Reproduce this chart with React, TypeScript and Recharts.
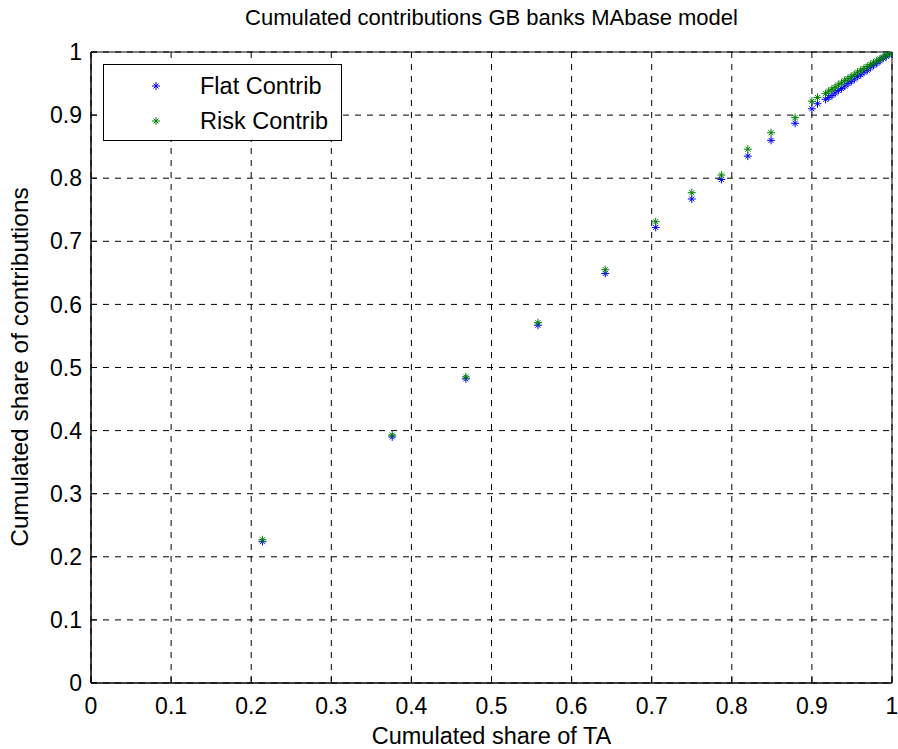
import React from 'react';
import { ScatterChart, Scatter, XAxis, YAxis, CartesianGrid, Legend, ReferenceArea } from 'recharts';

const shareTA = [0.214, 0.376, 0.468, 0.558, 0.642, 0.705, 0.75, 0.787, 0.82, 0.849, 0.879, 0.9, 0.907, 0.917, 0.921, 0.925, 0.929, 0.933, 0.937, 0.941, 0.945, 0.949, 0.953, 0.957, 0.961, 0.965, 0.969, 0.973, 0.977, 0.981, 0.985, 0.989, 0.993, 0.997, 1.0];
const flatContrib = [0.224, 0.39, 0.482, 0.567, 0.649, 0.722, 0.767, 0.798, 0.835, 0.86, 0.887, 0.91, 0.918, 0.925, 0.928, 0.931, 0.935, 0.939, 0.942, 0.946, 0.95, 0.953, 0.957, 0.961, 0.964, 0.968, 0.971, 0.975, 0.979, 0.982, 0.986, 0.99, 0.993, 0.997, 1.0];
const riskContrib = [0.227, 0.393, 0.485, 0.571, 0.655, 0.731, 0.777, 0.805, 0.846, 0.872, 0.896, 0.922, 0.928, 0.934, 0.938, 0.941, 0.944, 0.948, 0.951, 0.955, 0.958, 0.961, 0.964, 0.968, 0.971, 0.974, 0.977, 0.98, 0.983, 0.986, 0.989, 0.992, 0.995, 0.998, 1.0];

const ticks = [0, 0.1, 0.2, 0.3, 0.4, 0.5, 0.6, 0.7, 0.8, 0.9, 1];
const tickLabels = ['0', '0.1', '0.2', '0.3', '0.4', '0.5', '0.6', '0.7', '0.8', '0.9', '1'];

const seriesNames = ['Flat Contrib', 'Risk Contrib'];
const seriesColors = ['#0000ff', '#008000'];

const flatData = shareTA.map((x, i) => ({ x, y: flatContrib[i] }));
const riskData = shareTA.map((x, i) => ({ x, y: riskContrib[i] }));

const FONT = '"Liberation Sans", Arial, sans-serif';

const starShape = (color: string) => (props: any) => {
  const { cx, cy } = props;
  if (cx == null || cy == null) return <g />;
  const r = 4;
  const d = 2.5;
  return (
    <g stroke={color} strokeWidth={1}>
      <line x1={cx - r} y1={cy} x2={cx + r} y2={cy} />
      <line x1={cx} y1={cy - r} x2={cx} y2={cy + r} />
      <line x1={cx - d} y1={cy - d} x2={cx + d} y2={cy + d} />
      <line x1={cx - d} y1={cy + d} x2={cx + d} y2={cy - d} />
    </g>
  );
};

const Marker = ({ color }: { color: string }) => (
  <svg width={10} height={10} style={{ display: 'block' }}>
    <g stroke={color} strokeWidth={1}>
      <line x1={1} y1={5} x2={9} y2={5} />
      <line x1={5} y1={1} x2={5} y2={9} />
      <line x1={2.5} y1={2.5} x2={7.5} y2={7.5} />
      <line x1={2.5} y1={7.5} x2={7.5} y2={2.5} />
    </g>
  </svg>
);

const LegendBox = () => (
  <div
    style={{
      position: 'absolute',
      left: 103,
      top: 64,
      width: 237,
      height: 75,
      border: '1px solid #000',
      background: '#fff',
      fontFamily: FONT,
      fontSize: 23.5,
      color: '#000',
    }}
  >
    {seriesNames.map((name, i) => (
      <div key={name} style={{ position: 'absolute', left: 0, top: i === 0 ? 7 : 42, height: 28, width: 237 }}>
        <div style={{ position: 'absolute', left: 47, top: 9 }}>
          <Marker color={seriesColors[i]} />
        </div>
        <div style={{ position: 'absolute', left: 96, top: 0, lineHeight: '28px', whiteSpace: 'nowrap' }}>{name}</div>
      </div>
    ))}
  </div>
);

export default function App() {
  const fmt = (v: number) => {
    const idx = ticks.findIndex((t) => Math.abs(t - v) < 1e-9);
    return idx >= 0 ? tickLabels[idx] : String(v);
  };
  return (
    <div style={{ position: 'absolute', left: 0, top: 0, width: 898, height: 749, background: '#fff', fontFamily: FONT }}>
      <div
        style={{
          position: 'absolute',
          left: 91,
          width: 801,
          top: 5,
          textAlign: 'center',
          fontSize: 22,
          color: '#000',
          whiteSpace: 'nowrap',
        }}
      >
        Cumulated contributions GB banks MAbase model
      </div>
      <div
        style={{
          position: 'absolute',
          left: 91,
          width: 801,
          top: 723,
          textAlign: 'center',
          fontSize: 23.5,
          color: '#000',
          whiteSpace: 'nowrap',
        }}
      >
        Cumulated share of TA
      </div>
      <div
        style={{
          position: 'absolute',
          left: 20,
          top: 367,
          transform: 'translate(-50%, -50%) rotate(-90deg)',
          fontSize: 24.5,
          color: '#000',
          whiteSpace: 'nowrap',
        }}
      >
        Cumulated share of contributions
      </div>
      <ScatterChart width={898} height={749} margin={{ top: 52, right: 6, bottom: 36, left: 51 }}>
        <CartesianGrid xAxisId="b" yAxisId="l" stroke="#000" strokeDasharray="6 6" />
        <XAxis
          xAxisId="b"
          type="number"
          dataKey="x"
          domain={[0, 1]}
          ticks={ticks}
          tickFormatter={fmt}
          height={30}
          axisLine={{ stroke: '#000' }}
          tickLine={{ stroke: '#000' }}
          tickSize={-6}
          tickMargin={21}
          tick={{ fill: '#000', fontSize: 23, fontFamily: FONT }}
          allowDataOverflow
        />
        <YAxis
          yAxisId="l"
          type="number"
          dataKey="y"
          domain={[0, 1]}
          ticks={ticks}
          tickFormatter={fmt}
          width={40}
          axisLine={{ stroke: '#000' }}
          tickLine={{ stroke: '#000' }}
          tickSize={-6}
          tickMargin={15}
          tick={{ fill: '#000', fontSize: 23, fontFamily: FONT }}
          allowDataOverflow
        />
        <ReferenceArea xAxisId="b" yAxisId="l" x1={0} x2={1} y1={0} y2={1} fill="none" stroke="#000" strokeWidth={1} ifOverflow="visible" />
        <Legend content={() => <LegendBox />} wrapperStyle={{ position: 'absolute', left: 0, top: 0, width: 0, height: 0 }} />
        <Scatter
          name={seriesNames[0]}
          data={flatData}
          xAxisId="b"
          yAxisId="l"
          fill={seriesColors[0]}
          shape={starShape(seriesColors[0])}
          isAnimationActive={false}
        />
        <Scatter
          name={seriesNames[1]}
          data={riskData}
          xAxisId="b"
          yAxisId="l"
          fill={seriesColors[1]}
          shape={starShape(seriesColors[1])}
          isAnimationActive={false}
        />
      </ScatterChart>
    </div>
  );
}
